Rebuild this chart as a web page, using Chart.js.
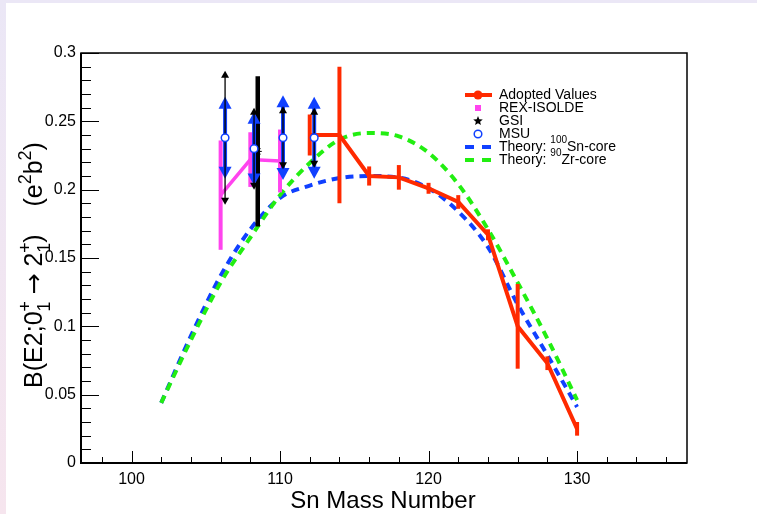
<!DOCTYPE html>
<html>
<head>
<meta charset="utf-8">
<script src="https://cdn.jsdelivr.net/npm/chart.js@4.4.0/dist/chart.umd.min.js"></script>
<style>
  html, body { margin: 0; padding: 0; }
  body { width: 757px; height: 514px; position: relative; overflow: hidden;
         background: linear-gradient(#ebe7f6, #f6e5ee); }
  #paper { position: absolute; left: 6px; top: 3px; width: 751px; height: 511px; background: #fff; }
  #c { position: absolute; left: 0; top: 0; }
</style>
</head>
<body>
<div id="paper"></div>
<canvas id="c" width="757" height="514"></canvas>
<script>
// ===== DADOS =====
// Adopted values
const adoptedA   = [112, 114, 116, 118, 120, 122, 124, 126, 128, 130];
const adoptedB   = [0.240, 0.240, 0.210, 0.209, 0.201, 0.191, 0.167, 0.100, 0.073, 0.025];
const adoptedErr = [0.015, 0.050, 0.007, 0.009, 0.004, 0.005, 0.004, 0.031, 0.005, 0.005];
// REX-ISOLDE
const rexA   = [106, 108, 110];
const rexB   = [0.196, 0.222, 0.221];
const rexErr = [0.040, 0.020, 0.023];
// GSI
const gsiA   = [108.5];
const gsiB   = [0.228];
const gsiErr = [0.055];
// MSU (blue = stat., thin black = total)
const msuA      = [106.3, 108.25, 110.2, 112.3];
const msuB      = [0.238, 0.230, 0.238, 0.238];
const msuErr    = [0.030, 0.027, 0.031, 0.030];
const msuErrAlt = [0.049, 0.030, 0.023, 0.022];
// Theory curves
const theoryA = [102, 104, 106, 108, 110, 112, 114, 116, 118, 120, 122, 124, 126, 128, 130];
const sn100   = [0.044, 0.093, 0.137, 0.171, 0.194, 0.203, 0.2085, 0.210, 0.2088, 0.201, 0.184, 0.158, 0.116, 0.079, 0.041];
const zr90    = [0.044, 0.090, 0.132, 0.165, 0.196, 0.2195, 0.2366, 0.2415, 0.239, 0.227, 0.204, 0.171, 0.132, 0.091, 0.046];
// Eixos
const xTicks = [100, 110, 120, 130];
const yTicks = [0, 0.05, 0.1, 0.15, 0.2, 0.25, 0.3];
const yLabels = ['0', '0.05', '0.1', '0.15', '0.2', '0.25', '0.3'];

const FONT = '"Liberation Sans", Arial, Helvetica, sans-serif';
const RED = '#ff2a00', MAG = '#ff44ee', BLUE = '#1040ff', GREEN = '#22ee11';

function pts(xs, ys) { return xs.map((x, i) => ({ x: x, y: ys[i] })); }

// desenha barra com pontas de seta
function arrowBar(ctx, x, yTop, yBot, lw, hw, hl, color) {
  ctx.strokeStyle = color; ctx.fillStyle = color; ctx.lineWidth = lw;
  ctx.beginPath(); ctx.moveTo(x, yTop + hl * 0.8); ctx.lineTo(x, yBot - hl * 0.8); ctx.stroke();
  ctx.beginPath(); ctx.moveTo(x, yTop); ctx.lineTo(x - hw / 2, yTop + hl); ctx.lineTo(x + hw / 2, yTop + hl); ctx.closePath(); ctx.fill();
  ctx.beginPath(); ctx.moveTo(x, yBot); ctx.lineTo(x - hw / 2, yBot - hl); ctx.lineTo(x + hw / 2, yBot - hl); ctx.closePath(); ctx.fill();
}

// ===== BARRAS DE ERRO =====
const errorBars = {
  id: 'errorBars',
  beforeDatasetDraw(chart, args) {
    const ds = chart.data.datasets[args.index];
    if (!ds.errBars) return;
    const ctx = chart.ctx, xs = chart.scales.x, ys = chart.scales.y;
    ctx.save();
    ds.errBars.forEach(eb => {
      ds.data.forEach((p, i) => {
        const x = xs.getPixelForValue(p.x);
        const yT = ys.getPixelForValue(p.y + eb.err[i]);
        const yB = ys.getPixelForValue(p.y - eb.err[i]);
        if (eb.head) {
          arrowBar(ctx, x, yT, yB, eb.width, eb.head[0], eb.head[1], eb.color);
        } else {
          ctx.strokeStyle = eb.color; ctx.lineWidth = eb.width; ctx.lineCap = 'butt';
          ctx.beginPath(); ctx.moveTo(x, yT); ctx.lineTo(x, yB); ctx.stroke();
        }
      });
    });
    ctx.restore();
  }
};

// texto com super/subscritos ('arr' = seta em DejaVu, mais larga)
function richText(ctx, parts, size, measureOnly) {
  let x = 0;
  parts.forEach(p => {
    const small = p[1] === 'sup' || p[1] === 'sub';
    const fam = p[1] === 'arr' ? '"DejaVu Sans", sans-serif' : FONT;
    ctx.font = (small ? Math.round(size * 0.7) : size) + 'px ' + fam;
    const dy = p[1] === 'sup' ? -size * 0.45 : p[1] === 'sub' ? size * 0.3 : 0;
    if (!measureOnly) ctx.fillText(p[0], x, dy);
    if (!p[2]) x += ctx.measureText(p[0]).width;
  });
  return x;
}

// ===== MOLDURA, TICKS, TÍTULOS E LEGENDA =====
const rootStyle = {
  id: 'rootStyle',
  afterDraw(chart) {
    const ctx = chart.ctx, a = chart.chartArea, xs = chart.scales.x, ys = chart.scales.y;
    const dpr = chart.currentDevicePixelRatio;
    ctx.save();
    ctx.strokeStyle = '#000';
    // ticks
    ctx.lineWidth = 1;
    ctx.beginPath();
    for (let v = 98; v <= 136; v += 2) {
      const px = Math.round(xs.getPixelForValue(v)) + 0.5;
      const len = xTicks.includes(v) ? 12 : 6;
      ctx.moveTo(px, a.bottom); ctx.lineTo(px, a.bottom - len);
    }
    for (let k = 0; k <= 30; k++) {
      const py = Math.round(ys.getPixelForValue(k / 100)) + 0.5;
      const len = k % 5 === 0 ? 18 : 10;
      ctx.moveTo(a.left, py); ctx.lineTo(a.left + len, py);
    }
    ctx.stroke();
    // moldura
    ctx.lineWidth = 1.5;
    ctx.strokeRect(a.left, a.top, a.right - a.left, a.bottom - a.top);
    ctx.lineWidth = 2;
    ctx.beginPath(); ctx.moveTo(a.left, a.top); ctx.lineTo(a.left, a.bottom); ctx.lineTo(a.right, a.bottom); ctx.stroke();

    // título do eixo x
    ctx.fillStyle = '#000';
    ctx.font = '24px ' + FONT;
    ctx.textAlign = 'center'; ctx.textBaseline = 'alphabetic';
    ctx.fillText('Sn Mass Number', 383, 508);

    // título do eixo y
    const yParts = [['B(E2;0', 'n'], ['+', 'sup', true], ['1', 'sub'], [' ', 'n'], ['\u2192', 'arr'], [' 2', 'n'], ['+', 'sup', true], ['1', 'sub'],
                    [')    (e', 'n'], ['2', 'sup'], ['b', 'n'], ['2', 'sup'], [')', 'n']];
    ctx.textAlign = 'left';
    const w = richText(ctx, yParts, 25, true);
    ctx.translate(42, 265 + w / 2);
    ctx.rotate(-Math.PI / 2);
    richText(ctx, yParts, 25, false);
    ctx.setTransform(dpr, 0, 0, dpr, 0, 0);

    // legenda
    const rows = [95, 108, 121, 134, 147, 160];
    const sx = 478, tx = 499;
    ctx.textBaseline = 'middle';
    ctx.strokeStyle = RED; ctx.lineWidth = 4;
    ctx.beginPath(); ctx.moveTo(465, rows[0]); ctx.lineTo(492, rows[0]); ctx.stroke();
    ctx.fillStyle = RED; ctx.beginPath(); ctx.arc(sx, rows[0], 4.5, 0, Math.PI * 2); ctx.fill();
    ctx.fillStyle = MAG; ctx.fillRect(sx - 3, rows[1] - 3, 6, 6);
    ctx.fillStyle = '#000';
    ctx.beginPath();
    for (let k = 0; k < 10; k++) {
      const r = k % 2 === 0 ? 5 : 2.2, ang = -Math.PI / 2 + k * Math.PI / 5;
      ctx.lineTo(sx + r * Math.cos(ang), rows[2] + r * Math.sin(ang));
    }
    ctx.closePath(); ctx.fill();
    ctx.strokeStyle = BLUE; ctx.lineWidth = 1.5;
    ctx.beginPath(); ctx.arc(sx, rows[3], 3.8, 0, Math.PI * 2); ctx.stroke();
    [[BLUE, rows[4]], [GREEN, rows[5]]].forEach(([c, y]) => {
      ctx.strokeStyle = c; ctx.lineWidth = 4;
      ctx.beginPath(); ctx.moveTo(465, y); ctx.lineTo(474, y); ctx.moveTo(482, y); ctx.lineTo(491, y); ctx.stroke();
    });
    ctx.fillStyle = '#000';
    ctx.font = '14px ' + FONT;
    ctx.fillText('Adopted Values', tx, rows[0]);
    ctx.fillText('REX-ISOLDE', tx, rows[1]);
    ctx.fillText('GSI', tx, rows[2]);
    ctx.fillText('MSU', tx, rows[3]);
    ctx.translate(tx, rows[4]);
    richText(ctx, [['Theory: ', 'n'], ['100', 'sup'], ['Sn-core', 'n']], 14, false);
    ctx.setTransform(dpr, 0, 0, dpr, 0, 0);
    ctx.translate(tx, rows[5]);
    richText(ctx, [['Theory: ', 'n'], ['90', 'sup'], ['Zr-core', 'n']], 14, false);
    ctx.restore();
  }
};

new Chart(document.getElementById('c'), {
  type: 'line',
  data: {
    datasets: [
      { label: 'MSU', data: pts(msuA, msuB), showLine: false,
        pointStyle: 'circle', pointRadius: 3.8, pointBorderWidth: 1.5,
        pointBorderColor: BLUE, pointBackgroundColor: '#fff',
        errBars: [ { err: msuErr, color: BLUE, width: 4, head: [13, 12] },
                   { err: msuErrAlt, color: '#000', width: 1.3, head: [8, 7] } ] },
      { label: 'GSI', data: pts(gsiA, gsiB), showLine: false,
        pointStyle: 'star', pointRadius: 4, pointBorderWidth: 1, pointBorderColor: '#000',
        errBars: [ { err: gsiErr, color: '#000', width: 4.5 } ] },
      { label: 'REX-ISOLDE', data: pts(rexA, rexB), borderColor: MAG, borderWidth: 3.5,
        pointRadius: 0, tension: 0,
        errBars: [ { err: rexErr, color: MAG, width: 4 } ] },
      { label: 'Adopted Values', data: pts(adoptedA, adoptedB), borderColor: RED, borderWidth: 4,
        pointRadius: 0, tension: 0,
        errBars: [ { err: adoptedErr, color: RED, width: 4 } ] },
      { label: 'Theory Zr', data: pts(theoryA, zr90), borderColor: GREEN, borderWidth: 4,
        borderDash: [8, 6], pointRadius: 0, cubicInterpolationMode: 'monotone' },
      { label: 'Theory Sn', data: pts(theoryA, sn100), borderColor: BLUE, borderWidth: 4,
        borderDash: [8, 6], pointRadius: 0, cubicInterpolationMode: 'monotone' }
    ]
  },
  options: {
    responsive: false,
    animation: false,
    devicePixelRatio: 1,
    layout: { padding: { left: 0, top: 53, right: 70, bottom: 0 } },
    plugins: { legend: { display: false }, tooltip: { enabled: false } },
    scales: {
      x: {
        type: 'linear', min: 96.6, max: 137.4,
        grid: { display: false, drawTicks: false }, border: { display: false },
        ticks: { color: '#000', font: { family: FONT, size: 16 }, padding: 7, maxRotation: 0 },
        afterBuildTicks: s => { s.ticks = xTicks.map(v => ({ value: v })); },
        afterFit: s => { s.height = 51; }
      },
      y: {
        type: 'linear', min: 0, max: 0.3,
        grid: { display: false, drawTicks: false }, border: { display: false },
        ticks: { color: '#000', font: { family: FONT, size: 16 }, padding: 5,
                 callback: (v) => { const i = yTicks.indexOf(v); return i >= 0 ? yLabels[i] : ''; } },
        afterBuildTicks: s => { s.ticks = yTicks.map(v => ({ value: v })); },
        afterFit: s => { s.width = 81; }
      }
    }
  },
  plugins: [errorBars, rootStyle]
});
</script>
</body>
</html>
